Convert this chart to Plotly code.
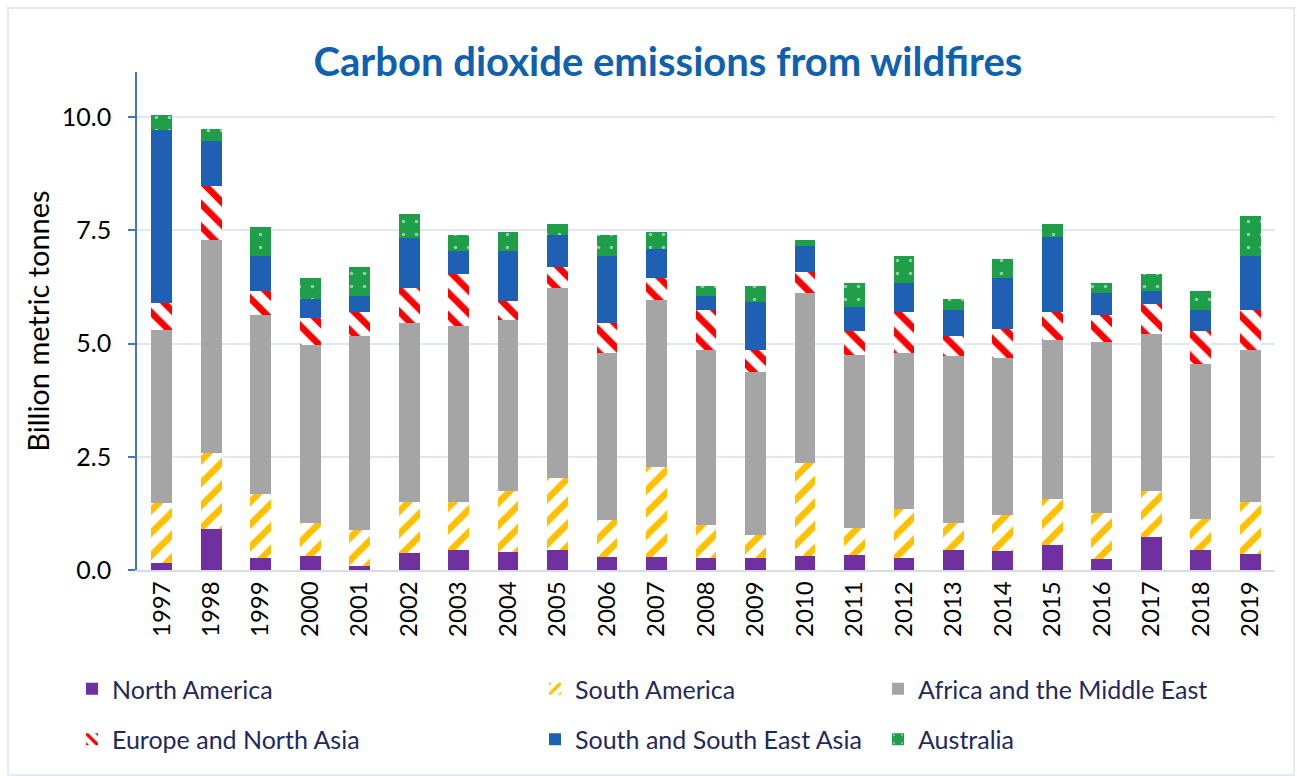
import plotly.graph_objects as go

years = [str(y) for y in range(1997, 2020)]

north_america = [0.15, 0.90, 0.26, 0.31, 0.09, 0.38, 0.44, 0.40, 0.44, 0.29, 0.28, 0.26,
                 0.26, 0.31, 0.33, 0.27, 0.44, 0.43, 0.55, 0.24, 0.74, 0.44, 0.35]
south_america = [1.32, 1.69, 1.42, 0.73, 0.79, 1.13, 1.07, 1.35, 1.60, 0.81, 2.00, 0.73,
                 0.51, 2.05, 0.60, 1.07, 0.60, 0.78, 1.02, 1.03, 1.00, 0.68, 1.16]
africa_me = [3.83, 4.69, 3.95, 3.93, 4.29, 3.95, 3.88, 3.77, 4.18, 3.70, 3.69, 3.87,
             3.61, 3.75, 3.82, 3.46, 3.68, 3.48, 3.52, 3.77, 3.48, 3.44, 3.35]
europe_na = [0.59, 1.20, 0.54, 0.59, 0.53, 0.76, 1.14, 0.42, 0.48, 0.66, 0.49, 0.89,
             0.49, 0.48, 0.53, 0.90, 0.45, 0.64, 0.61, 0.59, 0.65, 0.72, 0.89]
s_se_asia = [3.82, 1.00, 0.76, 0.42, 0.35, 1.12, 0.52, 1.11, 0.70, 1.48, 0.64, 0.30,
             1.05, 0.57, 0.53, 0.64, 0.58, 1.13, 1.66, 0.49, 0.29, 0.47, 1.18]
australia = [0.34, 0.27, 0.65, 0.48, 0.65, 0.53, 0.35, 0.42, 0.24, 0.46, 0.37, 0.23,
             0.35, 0.12, 0.53, 0.59, 0.23, 0.41, 0.28, 0.22, 0.37, 0.41, 0.89]

y_ticks = [0, 2.5, 5, 7.5, 10]
y_tick_labels = ["0.0", "2.5", "5.0", "7.5", "10.0"]

FONT = "Lato"
W, H = 1297, 776
L, R, T, B = 137, 22, 72, 206
PW, PH = W - L - R, H - T - B


def px_x(p):
    return (p - L) / PW


def px_y(p):
    return (H - B - p) / PH


series = [
    ("North America", north_america, dict(color="#7030A0"), "legend", "g1"),
    ("South America", south_america,
     dict(color="#FFC000", pattern=dict(shape="/", fillmode="replace", bgcolor="white",
                                        size=16, solidity=0.42)), "legend2", "g2"),
    ("Africa and the Middle East", africa_me, dict(color="#A5A5A5"), "legend3", "g3"),
    ("Europe and North Asia", europe_na,
     dict(color="#FF0000", pattern=dict(shape="\\", fillmode="replace", bgcolor="white",
                                        size=16, solidity=0.42)), "legend", "g4"),
    ("South and South East Asia", s_se_asia, dict(color="#1F60B4"), "legend2", "g5"),
    ("Australia", australia,
     dict(color="#1E9E48", pattern=dict(shape=".", fillmode="overlay", fgcolor="white",
                                        size=13, solidity=0.06)), "legend3", "g6"),
]

fig = go.Figure()
for name, vals, marker, lg, grp in series:
    m = dict(marker)
    m["line"] = dict(width=0)
    fig.add_trace(go.Bar(x=years, y=vals, name=name, marker=m, legend=lg, legendgroup=grp))

legend_common = dict(
    orientation="v", yanchor="top", xanchor="left",
    font=dict(family=FONT, size=25, color="#1F2A5C"),
    bgcolor="rgba(0,0,0,0)", tracegroupgap=15, traceorder="grouped",
)
leg_y = px_y(666)

fig.update_layout(
    width=W, height=H,
    margin=dict(l=L, r=R, t=T, b=B),
    paper_bgcolor="white", plot_bgcolor="white",
    barmode="stack", bargap=0.58,
    title=dict(text="<b>Carbon dioxide emissions from wildfires</b>",
               font=dict(family=FONT, size=40, color="#1060B0"),
               x=668 / W, xanchor="center", y=1 - 62 / H, yanchor="middle"),
    legend=dict(x=px_x(72), y=leg_y, **legend_common),
    legend2=dict(x=px_x(535), y=leg_y, **legend_common),
    legend3=dict(x=px_x(878), y=leg_y, **legend_common),
    xaxis=dict(
        tickangle=-90, tickfont=dict(family=FONT, size=24, color="black"),
        showline=True, linecolor="#D6DCE8", linewidth=1.5,
        showgrid=False, ticks="",
    ),
    yaxis=dict(
        range=[0, 11], tickvals=y_ticks, ticktext=y_tick_labels,
        tickfont=dict(family=FONT, size=25, color="black"),
        ticklabelstandoff=12,
        showline=True, linecolor="#4472C4", linewidth=1.5,
        ticks="outside", tickcolor="#4472C4", ticklen=7, tickwidth=1.5,
        showgrid=True, gridcolor="#E1E7F2", gridwidth=1.5,
        zeroline=False,
        title=dict(text="Billion metric tonnes",
                   font=dict(family=FONT, size=29, color="black"), standoff=4),
    ),
    shapes=[dict(type="rect", xref="paper", yref="paper",
                 x0=px_x(8), x1=px_x(1294), y0=px_y(775), y1=px_y(8),
                 line=dict(color="#E6E8F4", width=2), fillcolor="rgba(0,0,0,0)",
                 layer="below")],
)

fig.write_html("out.html")
